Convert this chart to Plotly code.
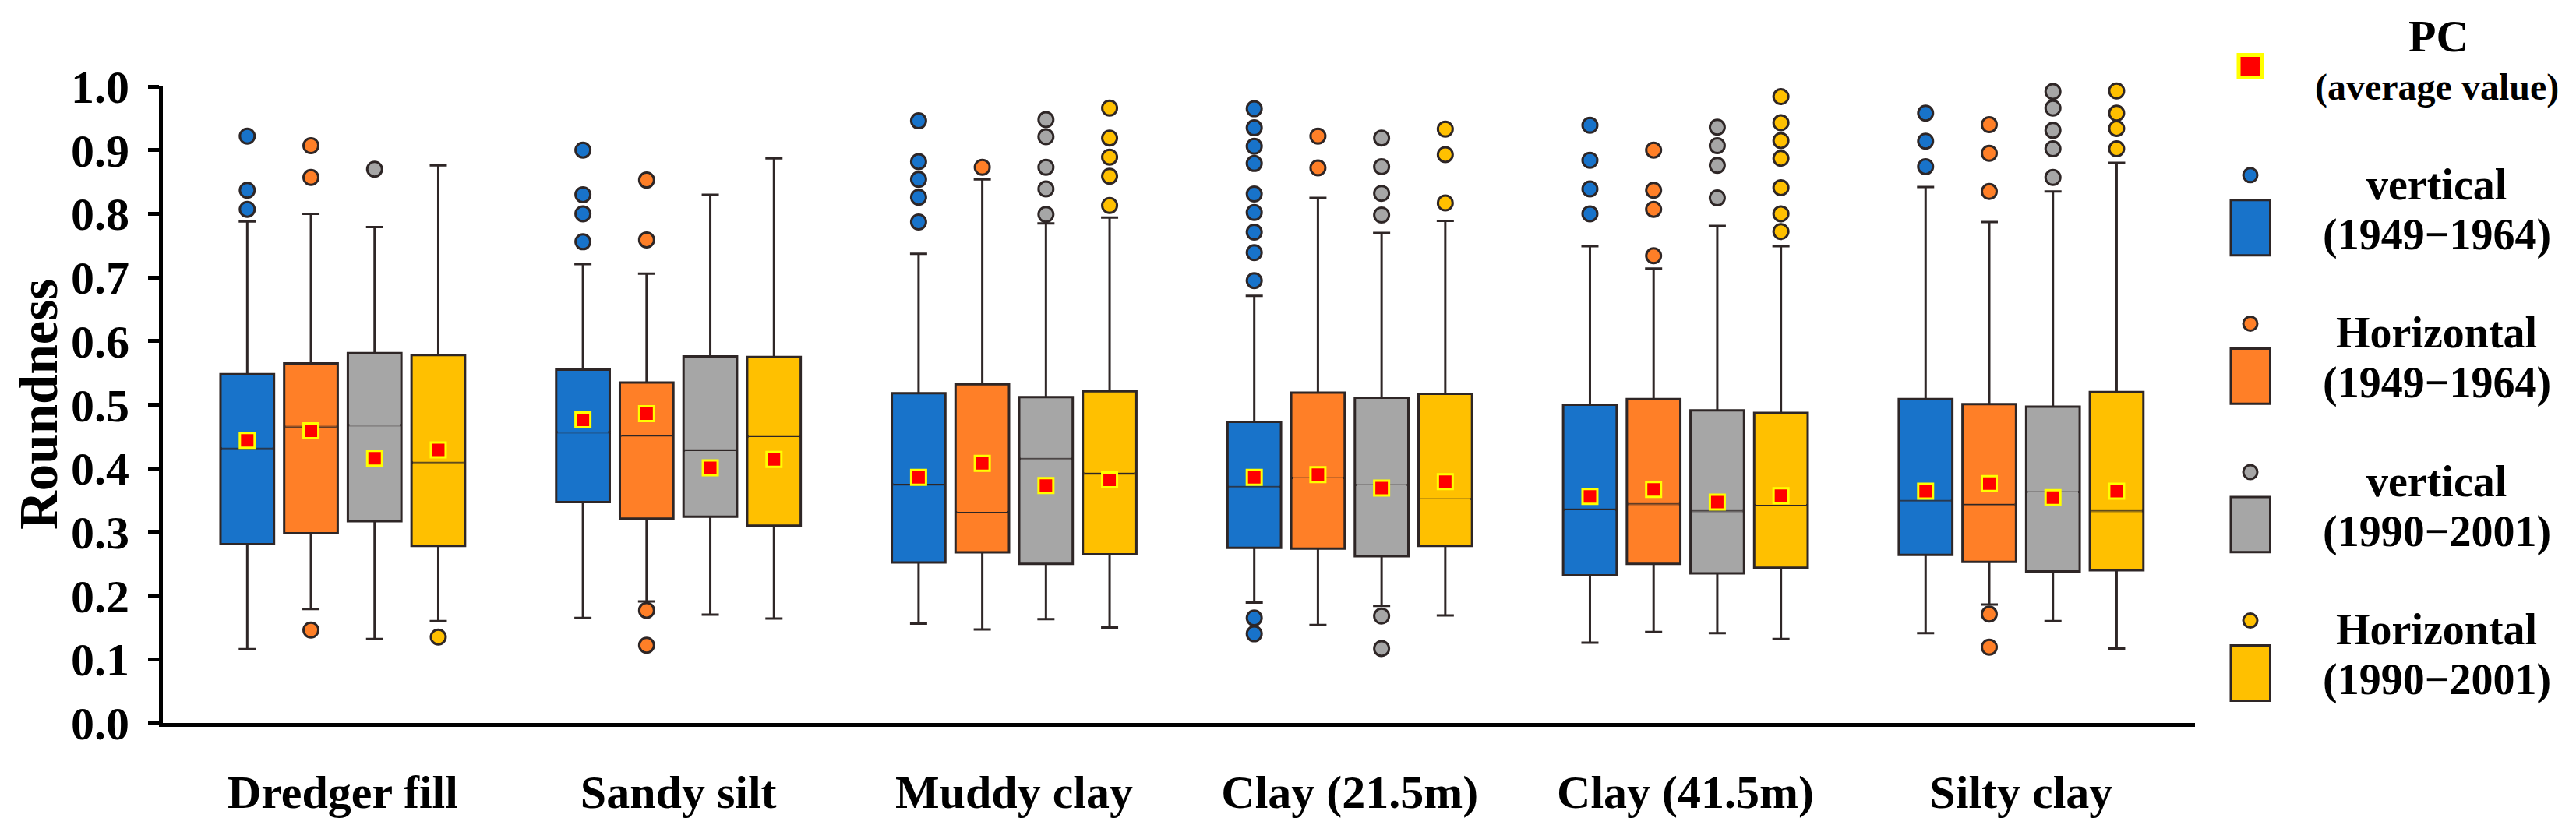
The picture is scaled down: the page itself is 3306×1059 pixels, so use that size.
import plotly.graph_objects as go

# ---------------- data ----------------
categories = ["Dredger fill", "Sandy silt", "Muddy clay", "Clay (21.5m)", "Clay (41.5m)", "Silty clay"]
series_line1 = ["vertical", "Horizontal", "vertical", "Horizontal"]
series_line2 = ["(1949\u22121964)", "(1949\u22121964)", "(1990\u22122001)", "(1990\u22122001)"]

v49_upper = [0.788, 0.721, 0.737, 0.671, 0.749, 0.842]
v49_q3 = [0.548, 0.555, 0.518, 0.473, 0.500, 0.509]
v49_median = [0.431, 0.457, 0.375, 0.371, 0.335, 0.349]
v49_q1 = [0.281, 0.347, 0.252, 0.275, 0.232, 0.264]
v49_lower = [0.116, 0.165, 0.156, 0.189, 0.126, 0.141]
v49_mean = [0.444, 0.476, 0.386, 0.386, 0.356, 0.364]
v49_outliers = [[0.922, 0.837, 0.807], [0.900, 0.830, 0.800, 0.756],
                [0.946, 0.882, 0.854, 0.826, 0.787],
                [0.965, 0.935, 0.906, 0.879, 0.831, 0.802, 0.771, 0.739, 0.695, 0.165, 0.140],
                [0.939, 0.884, 0.839, 0.800], [0.958, 0.914, 0.874]]

h49_upper = [0.800, 0.706, 0.854, 0.825, 0.714, 0.787]
h49_q3 = [0.565, 0.535, 0.532, 0.519, 0.509, 0.501]
h49_median = [0.465, 0.451, 0.331, 0.385, 0.344, 0.343]
h49_q1 = [0.298, 0.321, 0.268, 0.274, 0.250, 0.253]
h49_lower = [0.179, 0.191, 0.147, 0.154, 0.143, 0.186]
h49_mean = [0.459, 0.486, 0.408, 0.390, 0.367, 0.376]
h49_outliers = [[0.907, 0.857, 0.146], [0.853, 0.759, 0.177, 0.122], [0.873],
                [0.922, 0.872], [0.900, 0.837, 0.807, 0.734],
                [0.940, 0.895, 0.835, 0.171, 0.119]]

v90_upper = [0.779, 0.830, 0.785, 0.770, 0.781, 0.835]
v90_q3 = [0.581, 0.576, 0.512, 0.511, 0.491, 0.497]
v90_median = [0.468, 0.428, 0.415, 0.374, 0.333, 0.363]
v90_q1 = [0.317, 0.324, 0.250, 0.262, 0.235, 0.238]
v90_lower = [0.132, 0.170, 0.163, 0.184, 0.141, 0.160]
v90_mean = [0.416, 0.401, 0.373, 0.369, 0.347, 0.354]
v90_outliers = [[0.870], [], [0.948, 0.921, 0.873, 0.839, 0.799],
                [0.919, 0.874, 0.832, 0.798, 0.168, 0.117],
                [0.936, 0.907, 0.876, 0.825], [0.992, 0.966, 0.931, 0.902, 0.857]]

h90_upper = [0.876, 0.887, 0.794, 0.789, 0.749, 0.880]
h90_q3 = [0.578, 0.575, 0.521, 0.517, 0.487, 0.520]
h90_median = [0.409, 0.450, 0.392, 0.352, 0.342, 0.333]
h90_q1 = [0.278, 0.310, 0.265, 0.278, 0.244, 0.240]
h90_lower = [0.160, 0.164, 0.150, 0.169, 0.132, 0.117]
h90_mean = [0.429, 0.414, 0.382, 0.379, 0.357, 0.364]
h90_outliers = [[0.135], [], [0.966, 0.919, 0.889, 0.859, 0.813],
                [0.933, 0.893, 0.817], [0.984, 0.943, 0.915, 0.887, 0.841, 0.800, 0.772],
                [0.993, 0.958, 0.934, 0.902]]

y_ticks = [0.0, 0.1, 0.2, 0.3, 0.4, 0.5, 0.6, 0.7, 0.8, 0.9, 1.0]

# ---------------- styling ----------------
colors = ["#1873CA", "#FF7F27", "#A6A6A6", "#FFC000"]
DARK = "#2E2626"
FONT = "Times New Roman, Liberation Serif, serif"

series = [
    (v49_q1, v49_median, v49_q3, v49_lower, v49_upper, v49_mean, v49_outliers),
    (h49_q1, h49_median, h49_q3, h49_lower, h49_upper, h49_mean, h49_outliers),
    (v90_q1, v90_median, v90_q3, v90_lower, v90_upper, v90_mean, v90_outliers),
    (h90_q1, h90_median, h90_q3, h90_lower, h90_upper, h90_mean, h90_outliers),
]

SLOT = 0.1897      # distance between neighbouring boxes (category units)
BOXW = 0.1595      # box width (category units)
offsets = [(k - 1.5) * SLOT for k in range(4)]

# page geometry (body has an 8px margin)
OFF = 8
FIG_W, FIG_H = 3290, 1043
PL, PR, PT, PB = 209, 2817, 110.5, 928.5


def pxp(x):
    return (x - PL) / (PR - PL)


def pyp(y):
    return (PB - y) / (PB - PT)


fig = go.Figure()

for k, (q1, med, q3, lo, up, mean, outl) in enumerate(series):
    pos = [i + offsets[k] for i in range(len(categories))]
    fig.add_trace(go.Box(
        x=pos, q1=q1, median=med, q3=q3, lowerfence=lo, upperfence=up,
        width=BOXW, whiskerwidth=0.32, fillcolor=colors[k],
        line=dict(color=DARK, width=3), boxpoints=False,
        name=series_line1[k] + " " + series_line2[k], showlegend=False))

# thin median lines (cover the thick one, then draw a thin dark line)
for k, (q1, med, q3, lo, up, mean, outl) in enumerate(series):
    xs_in, ys_in = [], []
    for i, m in enumerate(med):
        c = i + offsets[k]
        xs_in += [c - BOXW / 2 + 0.0045, c + BOXW / 2 - 0.0045, None]
        ys_in += [m, m, None]
    fig.add_trace(go.Scatter(x=xs_in, y=ys_in, mode="lines",
                             line=dict(color=colors[k], width=3.2),
                             hoverinfo="skip", showlegend=False))
    fig.add_trace(go.Scatter(x=xs_in, y=ys_in, mode="lines",
                             line=dict(color=DARK, width=1.3),
                             hoverinfo="skip", showlegend=False))

# outliers
for k, (q1, med, q3, lo, up, mean, outl) in enumerate(series):
    ox, oy = [], []
    for i, vals in enumerate(outl):
        for v in vals:
            ox.append(i + offsets[k])
            oy.append(v)
    fig.add_trace(go.Scatter(x=ox, y=oy, mode="markers", cliponaxis=False,
                             marker=dict(symbol="circle", size=19, color=colors[k],
                                         line=dict(color=DARK, width=3)),
                             showlegend=False))

# means (PC average value)
for k, (q1, med, q3, lo, up, mean, outl) in enumerate(series):
    fig.add_trace(go.Scatter(x=[i + offsets[k] for i in range(len(categories))], y=mean,
                             mode="markers", cliponaxis=False,
                             marker=dict(symbol="square", size=19, color="#FF0000",
                                         line=dict(color="#FFFF00", width=3)),
                             showlegend=False))

# ---------------- custom legend ----------------
shapes = []
annotations = []
# PC marker
shapes.append(dict(type="rect", xref="paper", yref="paper",
                   x0=pxp(2873), x1=pxp(2903.5), y0=pyp(70), y1=pyp(99),
                   fillcolor="#FF0000", line=dict(color="#FFFF00", width=5)))
LX = 3127
annotations.append(dict(text="PC", xref="paper", yref="paper", x=pxp(3129), y=pyp(46),
                        xanchor="center", yanchor="middle", showarrow=False,
                        font=dict(family=FONT, size=58, color="black", weight="bold")))
annotations.append(dict(text="(average value)", xref="paper", yref="paper", x=pxp(LX), y=pyp(112),
                        xanchor="center", yanchor="middle", showarrow=False,
                        font=dict(family=FONT, size=48, color="black", weight="bold")))
ROW = 190.8
for k in range(4):
    cy = 224.5 + ROW * k
    shapes.append(dict(type="circle", xref="paper", yref="paper",
                       x0=pxp(2879), x1=pxp(2897), y0=pyp(cy - 9), y1=pyp(cy + 9),
                       fillcolor=colors[k], line=dict(color=DARK, width=3)))
    sy0 = 256.5 + ROW * k
    shapes.append(dict(type="rect", xref="paper", yref="paper",
                       x0=pxp(2863), x1=pxp(2913.5), y0=pyp(sy0), y1=pyp(sy0 + 71),
                       fillcolor=colors[k], line=dict(color=DARK, width=3)))
    b1 = 255.4 + ROW * k
    annotations.append(dict(text=series_line1[k], xref="paper", yref="paper",
                            x=pxp(LX), y=pyp(b1 - 19), xanchor="center", yanchor="middle",
                            showarrow=False,
                            font=dict(family=FONT, size=56, color="black", weight="bold")))
    annotations.append(dict(text=series_line2[k], xref="paper", yref="paper",
                            x=pxp(LX), y=pyp(b1 + 64.6 - 19), xanchor="center", yanchor="middle",
                            showarrow=False,
                            font=dict(family=FONT, size=56, color="black", weight="bold")))

# y-axis title
annotations.append(dict(text="Roundness", xref="paper", yref="paper", x=pxp(50), y=pyp(519),
                        xanchor="center", yanchor="middle", textangle=-90, showarrow=False,
                        font=dict(family=FONT, size=69, color="black", weight="bold")))

fig.update_layout(
    width=FIG_W, height=FIG_H, autosize=False,
    margin=dict(l=PL - OFF, r=FIG_W - (PR - OFF), t=PT - OFF, b=FIG_H - (PB - OFF), pad=0),
    paper_bgcolor="white", plot_bgcolor="white",
    showlegend=False, shapes=shapes, annotations=annotations,
    xaxis=dict(range=[-0.536, 5.518], tickvals=list(range(len(categories))), ticktext=categories,
               showline=True, linewidth=5, linecolor="black", ticks="", showgrid=False,
               zeroline=False, automargin=False,
               tickfont=dict(family=FONT, size=60, color="black", weight="bold"),
               ticklabelstandoff=32),
    yaxis=dict(range=[0, 1], tickvals=y_ticks, tickformat=".1f",
               showline=True, linewidth=5, linecolor="black", ticks="outside", ticklen=14,
               tickwidth=5, tickcolor="black", showgrid=False, zeroline=False, automargin=False,
               tickfont=dict(family=FONT, size=60, color="black", weight="bold"),
               ticklabelstandoff=12),
)

fig.write_html("out.html")
